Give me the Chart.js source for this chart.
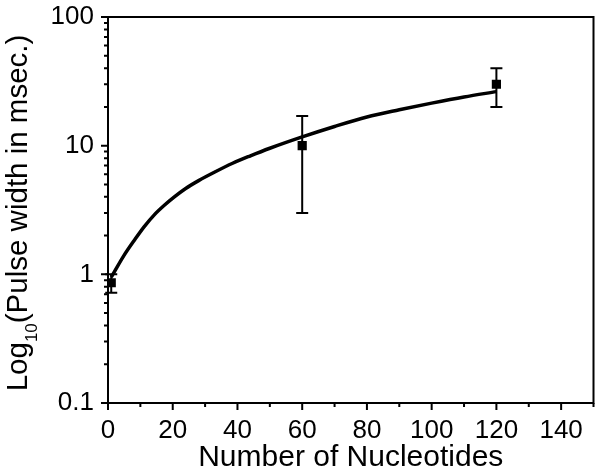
<!DOCTYPE html>
<html>
<head>
<meta charset="utf-8">
<script src="https://cdn.jsdelivr.net/npm/chart.js@4"></script>
<style>
  body { margin: 0; background: #fff; }
  #wrap { width: 600px; height: 476px; }
</style>
</head>
<body>
<div id="wrap"><canvas id="pulseChart"></canvas></div>
<script>
// measured points with error bars
const nucleotides = [1, 60, 120];
const pulseWidth = [0.86, 10, 30];
const pulseErr = [0.14, 7, 10];

// fitted curve
const fitX = [1, 2, 5, 8.2, 11.2, 14.3, 17.4, 20.5, 24, 28, 33, 38.5, 44, 50, 60, 70, 80, 90, 100, 110, 120];
const fitY = [0.95, 1.05, 1.41, 1.85, 2.35, 2.9, 3.44, 4.0, 4.65, 5.35, 6.24, 7.3, 8.34, 9.55, 11.7, 14.1, 16.7, 19.0, 21.4, 23.9, 26.3];

const xTicks = [0, 20, 40, 60, 80, 100, 120, 140];
const xMinor = [10, 30, 50, 70, 90, 110, 130, 150];
const yTicks = [0.1, 1, 10, 100];

const fontName = '"Liberation Sans", Arial, sans-serif';

const axesPlugin = {
    id: 'axesPlugin',
    beforeDatasetsDraw(chart) {
        const ctx = chart.ctx;
        const xs = chart.scales.x, ys = chart.scales.y;
        ctx.save();
        ctx.strokeStyle = '#000';
        ctx.lineWidth = 2;
        for (let i = 0; i < nucleotides.length; i++) {
            const px = xs.getPixelForValue(nucleotides[i]);
            const top = ys.getPixelForValue(pulseWidth[i] + pulseErr[i]);
            const bot = ys.getPixelForValue(pulseWidth[i] - pulseErr[i]);
            ctx.beginPath();
            ctx.moveTo(px, top); ctx.lineTo(px, bot);
            ctx.moveTo(px - 6, top); ctx.lineTo(px + 6, top);
            ctx.moveTo(px - 6, bot); ctx.lineTo(px + 6, bot);
            ctx.stroke();
        }
        ctx.restore();
    },
    afterDraw(chart) {
        const ctx = chart.ctx;
        const a = chart.chartArea;
        const xs = chart.scales.x, ys = chart.scales.y;
        ctx.save();
        ctx.strokeStyle = '#000';
        ctx.lineWidth = 2;
        ctx.strokeRect(a.left, a.top, a.right - a.left, a.bottom - a.top);

        ctx.beginPath();
        xTicks.forEach(v => {
            const p = xs.getPixelForValue(v);
            ctx.moveTo(p, a.bottom); ctx.lineTo(p, a.bottom + 7);
        });
        xMinor.forEach(v => {
            const p = xs.getPixelForValue(v);
            ctx.moveTo(p, a.bottom); ctx.lineTo(p, a.bottom + 4);
        });
        yTicks.forEach((v, i) => {
            const p = ys.getPixelForValue(v);
            ctx.moveTo(a.left, p); ctx.lineTo(a.left - 7, p);
            if (i < yTicks.length - 1) {
                for (let k = 2; k <= 9; k++) {
                    const q = ys.getPixelForValue(v * k);
                    ctx.moveTo(a.left, q); ctx.lineTo(a.left - 4, q);
                }
            }
        });
        ctx.stroke();

        // y title with subscript
        const big = '29.5px ' + fontName;
        const small = '17px ' + fontName;
        ctx.fillStyle = '#000';
        ctx.font = big;
        const w1 = ctx.measureText('Log').width;
        const w3 = ctx.measureText('(Pulse width in msec.)').width;
        ctx.font = small;
        const w2 = ctx.measureText('10').width;
        const total = w1 + w2 + w3;
        ctx.translate(27, (a.top + a.bottom) / 2 + 3);
        ctx.rotate(-Math.PI / 2);
        ctx.textBaseline = 'alphabetic';
        ctx.textAlign = 'left';
        let x = -total / 2;
        ctx.font = big;
        ctx.fillText('Log', x, 0);
        x += w1;
        ctx.font = small;
        ctx.fillText('10', x, 10);
        x += w2;
        ctx.font = big;
        ctx.fillText('(Pulse width in msec.)', x, 0);
        ctx.restore();
    }
};

const ctx = document.getElementById('pulseChart');
new Chart(ctx, {
    data: {
        datasets: [{
            type: 'line',
            data: fitX.map((v, i) => ({ x: v, y: fitY[i] })),
            borderColor: '#000',
            borderWidth: 3.5,
            pointRadius: 0,
            cubicInterpolationMode: 'monotone',
            fill: false
        }, {
            type: 'scatter',
            data: nucleotides.map((v, i) => ({ x: v, y: pulseWidth[i] })),
            pointStyle: 'rect',
            pointRadius: 6.5,
            backgroundColor: '#000',
            borderColor: '#000',
            borderWidth: 0
        }]
    },
    options: {
        responsive: true,
        maintainAspectRatio: false,
        animation: false,
        layout: { padding: { top: 17, right: 4, left: 0, bottom: 0 } },
        plugins: {
            legend: { display: false },
            tooltip: { enabled: false }
        },
        scales: {
            x: {
                type: 'linear',
                min: 0,
                max: 150,
                afterBuildTicks: s => { s.ticks = xTicks.map(v => ({ value: v })); },
                afterFit: s => { s.height = 73; s.paddingLeft = 0; s.paddingRight = 0; },
                grid: { display: false, drawTicks: false },
                border: { display: false },
                ticks: {
                    color: '#000',
                    padding: 12,
                    maxRotation: 0,
                    font: { family: fontName, size: 26 }
                },
                title: {
                    display: true,
                    text: 'Number of Nucleotides',
                    color: '#000',
                    font: { family: fontName, size: 30 },
                    padding: { top: 0, bottom: 0 }
                }
            },
            y: {
                type: 'logarithmic',
                min: 0.1,
                max: 100,
                afterBuildTicks: s => { s.ticks = yTicks.map(v => ({ value: v })); },
                afterFit: s => { s.width = 108; s.paddingTop = 0; s.paddingBottom = 0; },
                grid: { display: false, drawTicks: false },
                border: { display: false },
                ticks: {
                    color: '#000',
                    padding: 14,
                    font: { family: fontName, size: 26 },
                    callback: v => String(v)
                }
            }
        }
    },
    plugins: [axesPlugin]
});
</script>
</body>
</html>
